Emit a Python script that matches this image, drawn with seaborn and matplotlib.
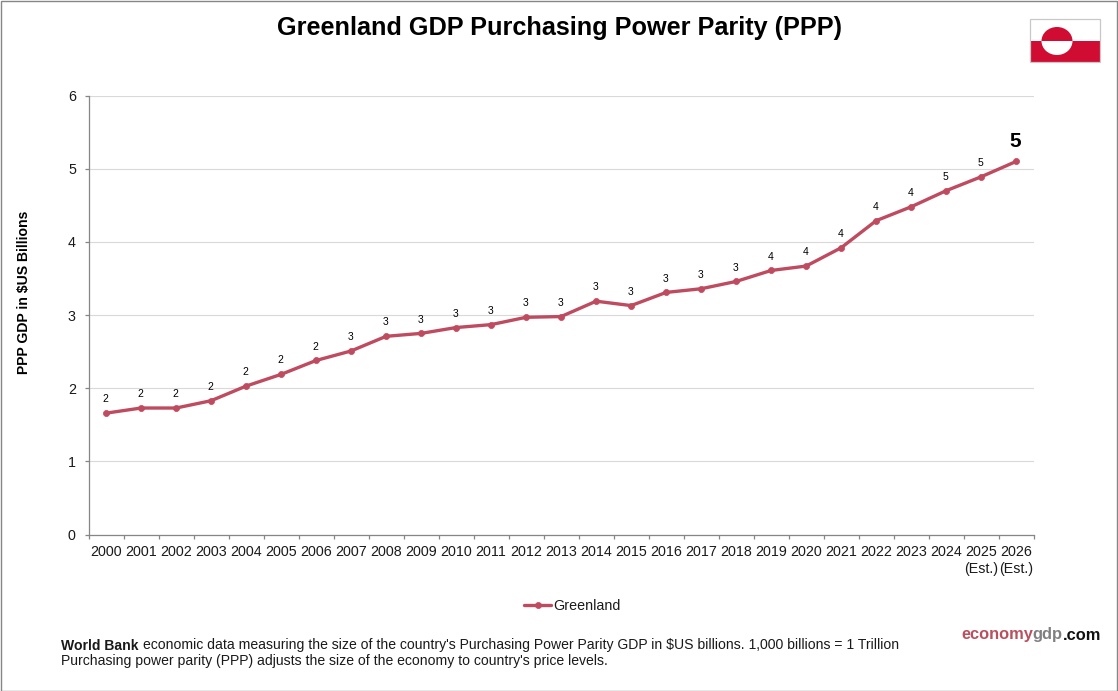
import matplotlib
matplotlib.use("Agg")
import matplotlib.pyplot as plt
from matplotlib.patches import Ellipse, Rectangle
import pandas as pd
import seaborn as sns

years = [str(y) for y in range(2000, 2027)]
tick_labels = years[:25] + ["2025\n(Est.)", "2026\n(Est.)"]
gdp_ppp = [1.66, 1.73, 1.73, 1.83, 2.03, 2.19, 2.38, 2.51, 2.71, 2.75, 2.83, 2.87, 2.97, 2.98,
           3.19, 3.13, 3.31, 3.36, 3.46, 3.61, 3.67, 3.92, 4.29, 4.48, 4.70, 4.89, 5.10]
series_name = "Greenland"
y_ticks = [0, 1, 2, 3, 4, 5, 6]

W, H = 1118, 691
LINE = "#BE4B5F"
TEXT = "#1a1a1a"

sns.set_theme(style="white")
plt.rcParams["font.family"] = ["Liberation Sans", "DejaVu Sans"]

fig = plt.figure(figsize=(W / 100, H / 100), dpi=100, facecolor="white")


def px_rect(left, top, right, bottom):
    return [left / W, 1 - bottom / H, (right - left) / W, (bottom - top) / H]


ax = fig.add_axes(px_rect(88.6, 95.6, 1033.6, 534.6))
df = pd.DataFrame({"pos": range(len(years)), "value": gdp_ppp, "country": series_name})
sns.lineplot(data=df, x="pos", y="value", ax=ax, color=LINE, linewidth=2.4, marker="o",
             markersize=4.4, markeredgecolor=LINE, markeredgewidth=0.5, label=series_name,
             legend=False, clip_on=False)

ax.set_xlim(-0.5, len(years) - 0.5)
ax.set_ylim(0, 6)
ax.set_yticks(y_ticks)
ax.set_yticklabels([str(t) for t in y_ticks], fontsize=10.3, color=TEXT)
ax.set_xticks(range(len(years)))
ax.set_xticklabels(tick_labels, fontsize=10.3, color=TEXT, linespacing=1.3)
ax.set_xlabel("")
ax.set_ylabel("PPP GDP in $US Billions", fontsize=10.1, fontweight="bold", color="black", labelpad=0)
ax.yaxis.set_label_coords((31 - 89) / 945, 0.552)

# Gridlines stop at the plot edge; the axis spines carry outward ticks between categories.
ax.yaxis.grid(True, color="#D9D9D9", linewidth=0.8)
ax.set_axisbelow(True)
for side in ("top", "right"):
    ax.spines[side].set_visible(False)
for side in ("left", "bottom"):
    ax.spines[side].set_color("#868686")
    ax.spines[side].set_linewidth(0.9)
ax.tick_params(axis="y", length=3.2, width=0.9, color="#868686", left=True, pad=6)
ax.set_xticks([i - 0.5 for i in range(len(years) + 1)], minor=True)
ax.tick_params(axis="x", which="minor", length=3.2, width=0.9, color="#868686", bottom=True)
ax.tick_params(axis="x", which="major", length=0, pad=7.5)

# Whole-number value labels above each point; the latest year is emphasised.
for i, v in enumerate(gdp_ppp):
    last = i == len(gdp_ppp) - 1
    ax.annotate(f"{v:.0f}", (i, v), xytext=(-0.3, 14.4 if last else 10.0), textcoords="offset points",
                ha="center", va="center",
                fontsize=15 if last else 7.5, fontweight="bold" if last else "normal",
                color="black")

fig.text(559.5 / W, 1 - 27.5 / H, "Greenland GDP Purchasing Power Parity (PPP)", ha="center",
         va="center", fontsize=18.2, fontweight="bold", color="black")

# Legend drawn from the line's own handle
handles, labels = ax.get_legend_handles_labels()
fig.legend(handles, labels, loc="center", bbox_to_anchor=(572.5 / W, 1 - 606.5 / H), frameon=False,
           fontsize=10.3, handlelength=1.9, handletextpad=0.15, labelcolor=TEXT)

# Footer notes
fig.text(61 / W, 1 - 645.5 / H, "World Bank", fontsize=10.1, fontweight="bold", color=TEXT, va="center")
fig.text(143 / W, 1 - 645.5 / H,
         "economic data measuring the size of the country's Purchasing Power Parity GDP in $US billions. "
         "1,000 billions = 1 Trillion",
         fontsize=10.1, color=TEXT, va="center")
fig.text(61 / W, 1 - 660.5 / H, "Purchasing power parity (PPP) adjusts the size of the economy to country's price levels.",
         fontsize=10.1, color=TEXT, va="center")

# Site wordmark in three colours
fig.text(961 / W, 1 - 635 / H, "economy", fontsize=11.8, fontweight="bold", color="#B9505F", va="center")
fig.text(1032 / W, 1 - 635 / H, "gdp", fontsize=11.8, fontweight="bold", color="#808080", va="center")
fig.text(1063 / W, 1 - 635 / H, ".com", fontsize=11.8, fontweight="bold", color="#111111", va="center")

# Flag of Greenland
flag = fig.add_axes(px_rect(1030, 19, 1100, 62))
flag.set_xlim(0, 70)
flag.set_ylim(43, 0)
flag.axis("off")
RED = "#D00C33"
flag.add_patch(Rectangle((0, 0), 70, 21.5, facecolor="white", edgecolor="none"))
flag.add_patch(Rectangle((0, 21.5), 70, 21.5, facecolor=RED, edgecolor="none"))
flag.add_patch(Ellipse((27, 22), 31, 28, facecolor=RED, edgecolor="none"))
lower = Ellipse((27, 22), 31, 28, facecolor="white", edgecolor="none")
flag.add_patch(lower)
lower.set_clip_path(Rectangle((0, 21.5), 70, 21.5, transform=flag.transData))
flag.add_patch(Rectangle((0, 0), 70, 43, fill=False, edgecolor="#C8C8C8", linewidth=0.9, clip_on=False))

# Outer frame of the graphic
fig.add_artist(Rectangle((0.5 / W, 0.5 / H), (W - 1.5) / W, (H - 1.5) / H, transform=fig.transFigure,
                         fill=False, edgecolor="#868686", linewidth=1.0))

fig.savefig("out.png", dpi=100, facecolor="white")
